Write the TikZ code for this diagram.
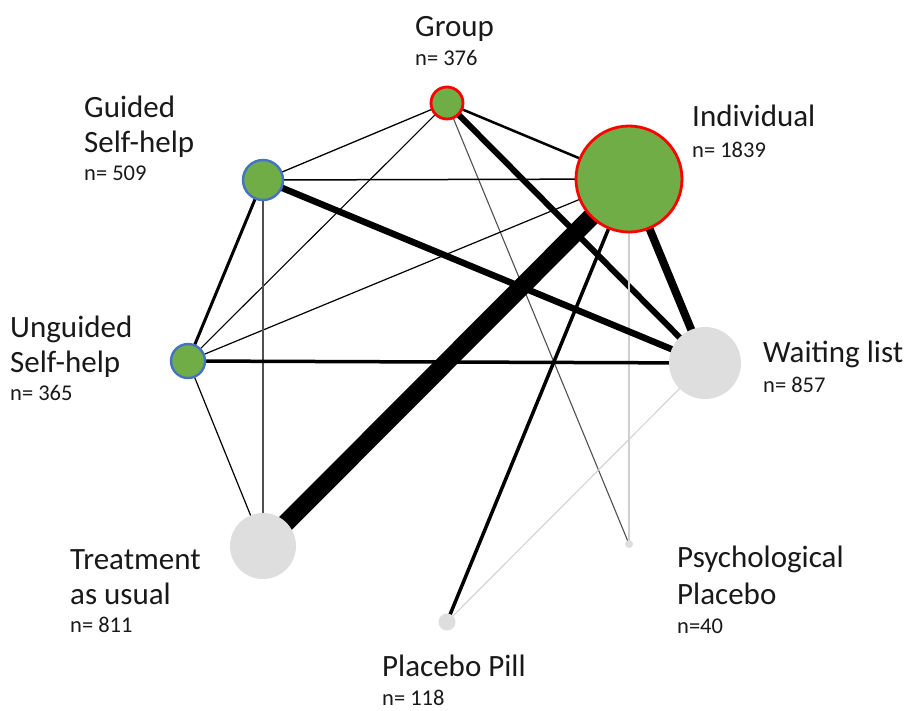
\documentclass[tikz,border=0pt]{standalone}
\usepackage{fontspec}
\setmainfont{Carlito}
\usetikzlibrary{backgrounds}
\definecolor{ngreen}{HTML}{70AD47}
\definecolor{nred}{HTML}{FF0000}
\definecolor{nblue}{HTML}{4472C4}
\definecolor{ngray}{HTML}{DEDEDE}
\definecolor{elight}{HTML}{CFCFCF}
\definecolor{edark}{HTML}{505050}
\tikzset{
  greenred/.style={circle, fill=ngreen, draw=nred, line width=2.8pt, inner sep=0pt},
  greenblue/.style={circle, fill=ngreen, draw=nblue, line width=2.4pt, inner sep=0pt},
  grayc/.style={circle, fill=ngray, draw=none, inner sep=0pt},
  namelbl/.style={anchor=base west, inner sep=0pt, font=\fontsize{31}{35}\selectfont, text=black!90},
  nlbl/.style={anchor=base west, inner sep=0pt, font=\fontsize{22.5}{26}\selectfont, text=black!90},
  edge/.style={draw=black, line cap=butt}
}
\begin{document}
\begin{tikzpicture}[x=1pt,y=-1pt]
\useasboundingbox (0,0) rectangle (907,710);
% nodes
\node[greenred, minimum size=32pt] (grp) at (447,103) {};
\node[greenred, minimum size=106pt] (ind) at (629,179) {};
\node[greenblue, minimum size=40pt] (gsh) at (263,180) {};
\node[greenblue, minimum size=34pt] (ugsh) at (188,361) {};
\node[grayc, minimum size=72pt] (wl) at (705,363) {};
\node[grayc, minimum size=66pt] (tau) at (263,546) {};
\node[grayc, minimum size=8pt] (psy) at (629,544) {};
\node[grayc, minimum size=17pt] (pill) at (447,622) {};
% edges
\begin{scope}[on background layer]
\draw[edge, line width=1.3pt] (grp.center) -- (gsh.center);
\draw[edge, line width=1.1pt] (grp.center) -- (ugsh.center);
\draw[edge, line width=2.5pt] (grp.center) -- (ind.center);
\draw[edge, line width=6pt] (grp.center) -- (wl.center);
\draw[edge, draw=edark, line width=1.1pt] (grp.center) -- (psy.center);
\draw[edge, line width=1.5pt] (ind.center) -- (gsh.center);
\draw[edge, line width=1.2pt] (ind.center) -- (ugsh.center);
\draw[edge, line width=18pt] (ind.center) -- (tau.center);
\draw[edge, line width=8pt] (ind.center) -- (wl.center);
\draw[edge, line width=3.5pt] (ind.center) -- (pill.center);
\draw[edge, draw=elight, line width=1.6pt] (ind.center) -- (psy.center);
\draw[edge, line width=6.5pt] (gsh.center) -- (wl.center);
\draw[edge, draw=edark, line width=1.1pt] (gsh.center) -- (tau.center);
\draw[edge, line width=3pt] (gsh.center) -- (ugsh.center);
\draw[edge, line width=3.5pt] (ugsh.center) -- (wl.center);
\draw[edge, line width=1.2pt] (ugsh.center) -- (tau.center);
\draw[edge, draw=elight, line width=1pt] (wl.center) -- (pill.center);
\end{scope}
% labels
\node[namelbl] (grpA) at (415,36) {Group};
\node[nlbl] (grpN) at (415,65) {n= 376};
\node[namelbl] (gshA) at (84,117) {Guided};
\node[namelbl] (gshB) at (84,152) {Self-help};
\node[nlbl] (gshN) at (84,180) {n= 509};
\node[namelbl] (indA) at (692,126) {Individual};
\node[nlbl] (indN) at (692,157) {n= 1839};
\node[namelbl] (ugshA) at (10,337) {Unguided};
\node[namelbl] (ugshB) at (10,372) {Self-help};
\node[nlbl] (ugshN) at (10,400) {n= 365};
\node[namelbl] (wlA) at (763,362) {Waiting list};
\node[nlbl] (wlN) at (763,392) {n= 857};
\node[namelbl] (tauA) at (70,569) {Treatment};
\node[namelbl] (tauB) at (70,604) {as usual};
\node[nlbl] (tauN) at (70,632) {n= 811};
\node[namelbl] (psyA) at (677,567) {Psychological};
\node[namelbl] (psyB) at (677,604) {Placebo};
\node[nlbl] (psyN) at (677,633) {n=40};
\node[namelbl] (pillA) at (382,676) {Placebo Pill};
\node[nlbl] (pillN) at (382,705) {n= 118};
\end{tikzpicture}
\end{document}
